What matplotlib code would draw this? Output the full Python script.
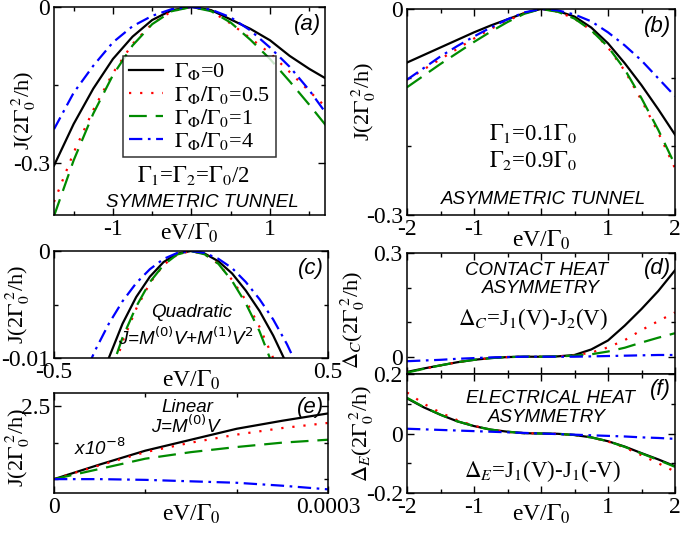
import matplotlib
matplotlib.use('Agg')
import matplotlib.pyplot as plt
from matplotlib.ticker import MultipleLocator, FixedLocator, NullFormatter
import numpy as np

plt.rcParams['font.family'] = 'Liberation Serif'
plt.rcParams['mathtext.fontset'] = 'stix'
plt.rcParams['font.size'] = 17
plt.rcParams['axes.linewidth'] = 1.1

# ---- data ----
# (a) symmetric tunnel
v_a = [-1.75, -1.5, -1.25, -1.0, -0.75, -0.5, -0.25, 0.0, 0.25, 0.5, 0.75, 1.0, 1.25, 1.5, 1.75]
ja_0 = [-0.305, -0.225, -0.157, -0.100, -0.057, -0.025, -0.006, 0.0, -0.006, -0.024, -0.042, -0.064, -0.094, -0.119, -0.141]
ja_05 = [-0.375, -0.280, -0.198, -0.127, -0.071, -0.032, -0.008, 0.0, -0.008, -0.032, -0.060, -0.089, -0.125, -0.162, -0.198]
ja_1 = [-0.402, -0.295, -0.205, -0.131, -0.074, -0.033, -0.008, 0.0, -0.008, -0.030, -0.063, -0.100, -0.143, -0.188, -0.235]
ja_4 = [-0.235, -0.165, -0.113, -0.068, -0.037, -0.017, -0.004, 0.0, -0.005, -0.020, -0.045, -0.078, -0.115, -0.160, -0.212]

# (b) asymmetric tunnel
v_b = [-2.0, -1.75, -1.5, -1.25, -1.0, -0.75, -0.5, -0.25, 0.0, 0.25, 0.5, 0.75, 1.0, 1.25, 1.5, 1.75, 2.0]
jb_0 = [-0.078, -0.067, -0.056, -0.045, -0.034, -0.024, -0.015, -0.006, 0.0, -0.003, -0.011, -0.027, -0.050, -0.079, -0.111, -0.146, -0.183]
jb_05 = [-0.103, -0.088, -0.073, -0.058, -0.043, -0.029, -0.017, -0.006, 0.0, -0.004, -0.014, -0.031, -0.056, -0.090, -0.133, -0.180, -0.232]
jb_1 = [-0.114, -0.097, -0.080, -0.064, -0.048, -0.033, -0.019, -0.007, 0.0, -0.004, -0.014, -0.031, -0.055, -0.088, -0.130, -0.176, -0.227]
jb_4 = [-0.103, -0.086, -0.069, -0.054, -0.040, -0.027, -0.015, -0.005, 0.0, -0.002, -0.008, -0.018, -0.034, -0.053, -0.075, -0.101, -0.127]

# (c) quadratic
v_c = [-0.45, -0.4, -0.35, -0.3, -0.25, -0.2, -0.15, -0.1, -0.05, 0.0, 0.05, 0.1, 0.15, 0.2, 0.25, 0.3, 0.35, 0.4, 0.45]
jc_0 = [-0.0183, -0.0159, -0.0138, -0.0100, -0.0068, -0.0043, -0.0024, -0.00103, -0.00025, 0.0, -0.00024, -0.00096, -0.0021, -0.0037, -0.0056, -0.0079, -0.0106, -0.0135, -0.0166]
jc_05 = [-0.0290, -0.0230, -0.0173, -0.0125, -0.0085, -0.0054, -0.0030, -0.0013, -0.00032, 0.0, -0.00031, -0.0012, -0.0027, -0.0046, -0.0071, -0.0100, -0.0133, -0.0170, -0.0210]
jc_1 = [-0.0265, -0.0210, -0.0161, -0.0118, -0.0081, -0.0052, -0.0029, -0.0013, -0.00032, 0.0, -0.00031, -0.0012, -0.0028, -0.0049, -0.0075, -0.0108, -0.0145, -0.0190, -0.0240]
jc_4 = [-0.0155, -0.0122, -0.0093, -0.0068, -0.0047, -0.0030, -0.0017, -0.00074, -0.00018, 0.0, -0.00018, -0.00073, -0.0016, -0.0029, -0.0045, -0.0064, -0.0087, -0.0114, -0.0143]

# (d) contact heat asymmetry
jd_0 = [-0.044, -0.034, -0.025, -0.016, -0.009, -0.004, -0.001, 0.0, 0.0, 0.001, 0.005, 0.021, 0.047, 0.090, 0.138, 0.190, 0.250]
jd_05 = [-0.046, -0.035, -0.025, -0.016, -0.009, -0.004, -0.001, 0.0, 0.0, 0.001, 0.004, 0.012, 0.027, 0.048, 0.077, 0.103, 0.128]
jd_1 = [-0.046, -0.035, -0.025, -0.016, -0.009, -0.004, -0.001, 0.0, 0.0, 0.001, 0.003, 0.007, 0.015, 0.026, 0.041, 0.055, 0.068]
jd_4 = [-0.013, -0.011, -0.009, -0.006, -0.004, -0.002, -0.001, 0.0, 0.0, 0.0, 0.0, 0.001, 0.002, 0.003, 0.004, 0.005, 0.005]

# (e) linear, x1e-8
v_e = [0.0, 0.00005, 0.0001, 0.00015, 0.0002, 0.00025, 0.0003]
je_0 = [1.50, 1.70, 1.89, 2.04, 2.19, 2.30, 2.40]
je_05 = [1.50, 1.69, 1.87, 2.00, 2.11, 2.20, 2.27]
je_1 = [1.50, 1.64, 1.78, 1.87, 1.94, 2.00, 2.04]
je_4 = [1.50, 1.50, 1.49, 1.47, 1.45, 1.41, 1.36]

# (f) electrical heat asymmetry
jf_0 = [0.118, 0.088, 0.063, 0.041, 0.025, 0.013, 0.006, 0.001, 0.0, -0.001, -0.005, -0.013, -0.026, -0.044, -0.066, -0.087, -0.110]
jf_05 = [0.138, 0.100, 0.070, 0.045, 0.026, 0.013, 0.005, 0.001, 0.0, -0.001, -0.005, -0.013, -0.027, -0.047, -0.073, -0.100, -0.128]
jf_1 = [0.120, 0.089, 0.063, 0.041, 0.025, 0.013, 0.006, 0.001, 0.0, -0.001, -0.005, -0.013, -0.026, -0.045, -0.067, -0.089, -0.112]
jf_4 = [0.016, 0.014, 0.012, 0.010, 0.008, 0.006, 0.004, 0.002, 0.0, -0.002, -0.004, -0.006, -0.008, -0.010, -0.013, -0.015, -0.018]

labels = [r'$\Gamma_\Phi$=0', r'$\Gamma_\Phi/\Gamma_0$=0.5',
          r'$\Gamma_\Phi/\Gamma_0$=1', r'$\Gamma_\Phi/\Gamma_0$=4']
styles = [dict(color='black', ls='-'),
          dict(color='red', ls=(0, (1, 4))),
          dict(color='#008b00', ls=(0, (8, 4))),
          dict(color='blue', ls=(0, (6, 2.5, 1.2, 2.5)))]

W, H = 680.0, 533.0


def make_axes(fig, left, top, right, bottom):
    return fig.add_axes([left / W, 1 - bottom / H, (right - left) / W, (bottom - top) / H])


def style_axes(ax):
    ax.tick_params(which='both', direction='in', top=True, right=True, labelsize=17, pad=3)
    ax.tick_params(which='major', length=5, width=1.0)
    ax.tick_params(which='minor', length=3, width=1.0)


def draw(ax, x, ys, lab=False):
    for y, st, l in zip(ys, styles, labels):
        ax.plot(x, y, lw=1.6, label=l if lab else None, **st)


sans = dict(family='Liberation Sans', style='italic')
ylab_size = 16

fig = plt.figure(figsize=(6.8, 5.33), dpi=100)

# (a)
ax = make_axes(fig, 54, 7, 325, 215)
draw(ax, v_a, [ja_0, ja_05, ja_1, ja_4], lab=True)
ax.set_xlim(-1.75, 1.7)
ax.set_ylim(-0.4, 0)
ax.xaxis.set_major_locator(FixedLocator([-1, 0, 1]))
ax.xaxis.set_minor_locator(MultipleLocator(0.5))
ax.set_xticklabels(['-1', '', '1'])
ax.yaxis.set_major_locator(FixedLocator([-0.3, 0]))
ax.set_yticklabels(['-0.3', '0'])
ax.yaxis.set_minor_locator(FixedLocator([-0.15]))
style_axes(ax)
ax.set_xlabel(r'eV/$\Gamma_0$')
ax.xaxis.set_label_coords(0.5, -0.03)
ax.set_ylabel(r'J(2$\Gamma_0^{\ 2}$/h)', fontsize=ylab_size)
ax.yaxis.set_label_coords(-0.06, 0.5)
leg = ax.legend(loc='upper left', bbox_to_anchor=(0.255, 0.765), fontsize=16, frameon=True,
                fancybox=False, handlelength=1.55, handletextpad=0.5, labelspacing=0.05,
                borderpad=0.25, borderaxespad=0)
leg.get_frame().set_edgecolor('black')
leg.get_frame().set_linewidth(1.1)
ax.text(0.513, 0.16, r'$\Gamma_1$=$\Gamma_2$=$\Gamma_0$/2', transform=ax.transAxes, ha='center', va='baseline', fontsize=16.5)
ax.text(0.546, 0.038, 'SYMMETRIC TUNNEL', transform=ax.transAxes, ha='center', va='baseline', fontsize=13.5, **sans)
ax.text(0.985, 0.965, '(a)', transform=ax.transAxes, ha='right', va='top', fontsize=16, **sans)

# (b)
ax = make_axes(fig, 407, 9, 675, 215)
draw(ax, v_b, [jb_0, jb_05, jb_1, jb_4])
ax.set_xlim(-2, 2)
ax.set_ylim(-0.3, 0)
ax.xaxis.set_major_locator(FixedLocator([-2, -1, 0, 1, 2]))
ax.set_xticklabels(['-2', '-1', '', '1', '2'])
ax.xaxis.set_minor_locator(MultipleLocator(0.5))
ax.yaxis.set_major_locator(FixedLocator([-0.3, 0]))
ax.set_yticklabels(['-0.3', '0'])
ax.yaxis.set_minor_locator(FixedLocator([-0.2, -0.1]))
style_axes(ax)
ax.set_xlabel(r'eV/$\Gamma_0$')
ax.xaxis.set_label_coords(0.5, -0.065)
ax.set_ylabel(r'J(2$\Gamma_0^{\ 2}$/h)', fontsize=ylab_size)
ax.yaxis.set_label_coords(-0.11, 0.55)
ax.text(0.47, 0.364, r'$\Gamma_1$=0.1$\Gamma_0$', transform=ax.transAxes, ha='center', va='baseline', fontsize=16.5)
ax.text(0.47, 0.234, r'$\Gamma_2$=0.9$\Gamma_0$', transform=ax.transAxes, ha='center', va='baseline', fontsize=16.5)
ax.text(0.508, 0.053, 'ASYMMETRIC TUNNEL', transform=ax.transAxes, ha='center', va='baseline', fontsize=13.5, **sans)
ax.text(0.985, 0.965, '(b)', transform=ax.transAxes, ha='right', va='top', fontsize=16, **sans)

# (c)
ax = make_axes(fig, 54, 251, 328, 358)
draw(ax, v_c, [jc_0, jc_05, jc_1, jc_4])
ax.set_xlim(-0.5, 0.5)
ax.set_ylim(-0.01, 0)
ax.xaxis.set_major_locator(FixedLocator([-0.5, 0.5]))
ax.set_xticklabels(['-0.5', '0.5'])
ax.yaxis.set_major_locator(FixedLocator([-0.01, 0]))
ax.set_yticklabels(['-0.01', '0'])
ax.yaxis.set_minor_locator(FixedLocator([-0.005]))
style_axes(ax)
ax.set_xlabel(r'eV/$\Gamma_0$')
ax.xaxis.set_label_coords(0.5, -0.1)
ax.set_ylabel(r'J(2$\Gamma_0^{\ 2}$/h)', fontsize=ylab_size)
ax.yaxis.set_label_coords(-0.082, 0.5)
ax.text(0.504, 0.386, 'Quadratic', transform=ax.transAxes, ha='center', va='baseline', fontsize=13.5, **sans)
ax.text(0.48, 0.121, r'J=M$^{(0)}$V+M$^{(1)}$V$^2$', transform=ax.transAxes, ha='center', va='baseline',
        fontsize=13.5, math_fontfamily='dejavusans', **sans)
ax.text(0.985, 0.93, '(c)', transform=ax.transAxes, ha='right', va='top', fontsize=16, **sans)

# (d)
ax = make_axes(fig, 407, 253, 675, 374)
draw(ax, v_b, [jd_0, jd_05, jd_1, jd_4])
ax.set_xlim(-2, 2)
ax.set_ylim(-0.05, 0.3)
ax.xaxis.set_major_locator(MultipleLocator(1))
ax.xaxis.set_minor_locator(MultipleLocator(0.5))
ax.xaxis.set_major_formatter(NullFormatter())
ax.yaxis.set_major_locator(FixedLocator([0, 0.3]))
ax.set_yticklabels(['0', '0.3'])
ax.yaxis.set_minor_locator(FixedLocator([0.1, 0.2]))
style_axes(ax)
ax.set_ylabel(r'$\Delta_C$(2$\Gamma_0^{\ 2}$/h)', fontsize=ylab_size)
ax.yaxis.set_label_coords(-0.15, 0.45)
ax.text(0.485, 0.818, 'CONTACT HEAT', transform=ax.transAxes, ha='center', va='baseline', fontsize=13.5, **sans)
ax.text(0.5, 0.667, 'ASYMMETRY', transform=ax.transAxes, ha='center', va='baseline', fontsize=13.5, **sans)
ax.text(0.47, 0.405, r'$\Delta_C$=J$_1$(V)-J$_2$(V)', transform=ax.transAxes, ha='center', va='baseline', fontsize=16.5)
ax.text(0.985, 0.96, '(d)', transform=ax.transAxes, ha='right', va='top', fontsize=16, **sans)

# (e)
ax = make_axes(fig, 54, 393, 328, 493)
draw(ax, v_e, [je_0, je_05, je_1, je_4])
ax.set_xlim(0, 0.0003)
ax.set_ylim(1.31, 2.68)
ax.xaxis.set_major_locator(FixedLocator([0, 0.0003]))
ax.set_xticklabels(['0', '0.0003'])
ax.xaxis.set_minor_locator(FixedLocator([0.0001, 0.0002]))
ax.yaxis.set_major_locator(FixedLocator([2.5]))
ax.set_yticklabels(['2.5'])
ax.yaxis.set_minor_locator(FixedLocator([1.5, 2.0]))
style_axes(ax)
ax.set_xlabel(r'eV/$\Gamma_0$')
ax.xaxis.set_label_coords(0.5, -0.1)
ax.set_ylabel(r'J(2$\Gamma_0^{\ 2}$/h)', fontsize=ylab_size)
ax.yaxis.set_label_coords(-0.082, 0.45)
ax.text(0.485, 0.813, 'Linear', transform=ax.transAxes, ha='center', va='baseline', fontsize=13.5, **sans)
ax.text(0.485, 0.6, r'J=M$^{(0)}$V', transform=ax.transAxes, ha='center', va='baseline',
        fontsize=13.5, math_fontfamily='dejavusans', **sans)
ax.text(0.168, 0.38, r'x10$^{-8}$', transform=ax.transAxes, ha='center', va='baseline',
        fontsize=13.5, math_fontfamily='dejavusans', **sans)
ax.text(0.985, 0.96, '(e)', transform=ax.transAxes, ha='right', va='top', fontsize=16, **sans)

# (f)
ax = make_axes(fig, 407, 374, 675, 493)
draw(ax, v_b, [jf_0, jf_05, jf_1, jf_4])
ax.set_xlim(-2, 2)
ax.set_ylim(-0.2, 0.2)
ax.xaxis.set_major_locator(FixedLocator([-2, -1, 0, 1, 2]))
ax.set_xticklabels(['-2', '-1', '', '1', '2'])
ax.xaxis.set_minor_locator(MultipleLocator(0.5))
ax.yaxis.set_major_locator(FixedLocator([-0.2, 0, 0.2]))
ax.set_yticklabels(['-0.2', '0', '0.2'])
ax.yaxis.set_minor_locator(FixedLocator([-0.1, 0.1]))
style_axes(ax)
ax.set_xlabel(r'eV/$\Gamma_0$')
ax.xaxis.set_label_coords(0.5, -0.08)
ax.set_ylabel(r'$\Delta_E$(2$\Gamma_0^{\ 2}$/h)', fontsize=ylab_size)
ax.yaxis.set_label_coords(-0.115, 0.5)
ax.text(0.537, 0.759, 'ELECTRICAL HEAT', transform=ax.transAxes, ha='center', va='baseline', fontsize=13.5, **sans)
ax.text(0.522, 0.599, 'ASYMMETRY', transform=ax.transAxes, ha='center', va='baseline', fontsize=13.5, **sans)
ax.text(0.507, 0.137, r'$\Delta_E$=J$_1$(V)-J$_1$(-V)', transform=ax.transAxes, ha='center', va='baseline', fontsize=16.5)
ax.text(0.985, 0.96, '(f)', transform=ax.transAxes, ha='right', va='top', fontsize=16, **sans)

fig.savefig('out.png', dpi=100)
